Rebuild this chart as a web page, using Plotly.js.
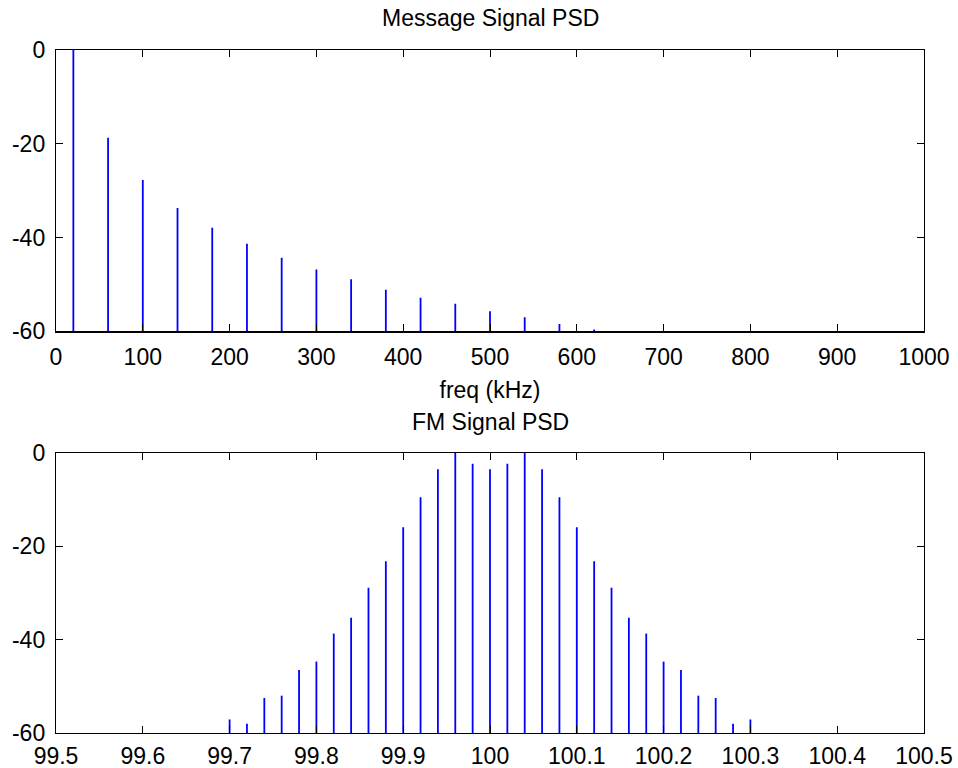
<!DOCTYPE html>
<html>
<head>
<meta charset="utf-8">
<script src="https://cdn.plot.ly/plotly-3.0.1.min.js"></script>
<style>html,body{margin:0;padding:0;background:#fff;}#chart{width:958px;height:768px;}</style>
</head>
<body>
<div id="chart"></div>
<script>
// Message signal PSD (odd harmonics, kHz) and peak levels (dB)
const msgFreq = [20, 60, 100, 140, 180, 220, 260, 300, 340, 380, 420, 460, 500, 540, 580, 620];
const msgPSD  = [0, -18.7, -27.7, -33.7, -37.9, -41.3, -44.3, -46.8, -48.9, -51.1, -52.8, -54.1, -55.7, -57.0, -58.4, -59.6];

// FM signal PSD lines (kHz) and peak levels (dB)
const fmFreq = [99.70, 99.72, 99.74, 99.76, 99.78, 99.80, 99.82, 99.84, 99.86, 99.88, 99.90, 99.92, 99.94, 99.96, 99.98,
                100.00, 100.02, 100.04, 100.06, 100.08, 100.10, 100.12, 100.14, 100.16, 100.18, 100.20, 100.22, 100.24, 100.26, 100.28, 100.30];
const fmPSD  = [-57.1, -58.0, -52.5, -52.0, -46.5, -44.7, -38.7, -35.3, -28.9, -23.2, -15.9, -9.5, -3.5, 0, -2.3,
                -3.5, -2.3, 0, -3.5, -9.5, -15.9, -23.2, -28.9, -35.3, -38.7, -44.7, -46.5, -52.0, -52.5, -58.0, -57.1];

// Tick labels
const yTickVals = [-60, -40, -20, 0];
const yTickText = ["-60", "-40", "-20", "0"];
const msgXTickVals = [0, 100, 200, 300, 400, 500, 600, 700, 800, 900, 1000];
const msgXTickText = ["0", "100", "200", "300", "400", "500", "600", "700", "800", "900", "1000"];
const fmXTickVals = [99.5, 99.6, 99.7, 99.8, 99.9, 100, 100.1, 100.2, 100.3, 100.4, 100.5];
const fmXTickText = ["99.5", "99.6", "99.7", "99.8", "99.9", "100", "100.1", "100.2", "100.3", "100.4", "100.5"];

const FLOOR = -90; // below axis range; clipped away

function stems(freqs, vals) {
  const xs = [], ys = [];
  for (let i = 0; i < freqs.length; i++) {
    xs.push(freqs[i], freqs[i], null);
    ys.push(FLOOR, vals[i], null);
  }
  return {xs, ys};
}

const s1 = stems(msgFreq, msgPSD);
const s2 = stems(fmFreq, fmPSD);

const font = {family: "Liberation Sans, Arial, Helvetica, sans-serif", size: 23, color: "#000"};

const traces = [
  {x: s1.xs, y: s1.ys, type: "scatter", mode: "lines", line: {color: "#0000ff", width: 1.8}, xaxis: "x", yaxis: "y", hoverinfo: "skip", connectgaps: false},
  {x: s2.xs, y: s2.ys, type: "scatter", mode: "lines", line: {color: "#0000ff", width: 1.8}, xaxis: "x2", yaxis: "y2", hoverinfo: "skip", connectgaps: false}
];

const axisCommon = {
  showline: true, linecolor: "#000", linewidth: 1.2, mirror: "ticks",
  ticks: "inside", ticklen: 7, tickwidth: 1, tickcolor: "#000",
  showgrid: false, zeroline: false, tickfont: font, tickmode: "array"
};

const layout = {
  width: 958, height: 768,
  margin: {l: 56, r: 34, t: 50, b: 35},
  paper_bgcolor: "#fff", plot_bgcolor: "#fff",
  showlegend: false,
  font: font,
  xaxis: Object.assign({}, axisCommon, {
    domain: [0, 1], range: [0, 1000], anchor: "y",
    tickvals: msgXTickVals, ticktext: msgXTickText, ticklabelstandoff: 5,
    title: {text: "freq (kHz)", font: font, standoff: 12}
  }),
  yaxis: Object.assign({}, axisCommon, {
    domain: [0.588, 1], range: [-60, 0], anchor: "x",
    tickvals: yTickVals, ticktext: yTickText, ticklabelstandoff: 5
  }),
  xaxis2: Object.assign({}, axisCommon, {
    domain: [0, 1], range: [99.5, 100.5], anchor: "y2",
    tickvals: fmXTickVals, ticktext: fmXTickText, ticklabelstandoff: 2
  }),
  yaxis2: Object.assign({}, axisCommon, {
    domain: [0, 0.41], range: [-60, 0], anchor: "x2",
    tickvals: yTickVals, ticktext: yTickText, ticklabelstandoff: 5
  }),
  annotations: [
    {text: "Message Signal PSD", xref: "paper", yref: "paper", x: 0.5, y: 1, yshift: 17, xanchor: "center", yanchor: "bottom", showarrow: false, font: font},
    {text: "FM Signal PSD", xref: "paper", yref: "paper", x: 0.5, y: 0.41, yshift: 16, xanchor: "center", yanchor: "bottom", showarrow: false, font: font}
  ]
};

Plotly.newPlot("chart", traces, layout, {displayModeBar: false, staticPlot: true});
</script>
</body>
</html>
